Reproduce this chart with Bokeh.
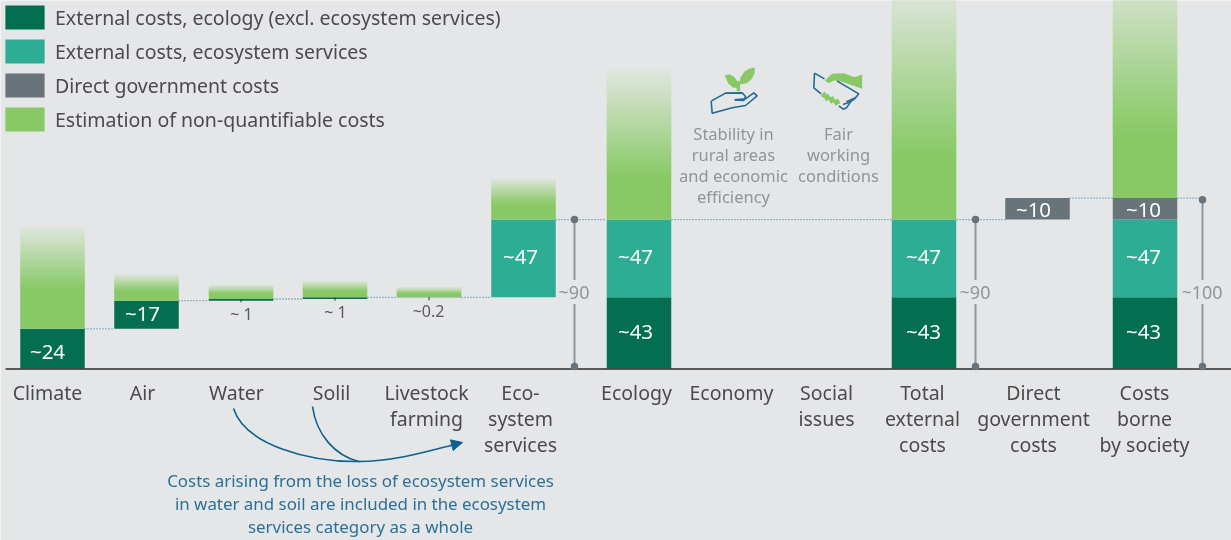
from bokeh.plotting import figure
from bokeh.embed import file_html
from bokeh.resources import INLINE
from bokeh.core.properties import value
from bokeh.models import Range1d, Legend, LegendItem, Arrow, NormalHead

# ---------- data ----------
categories = ["Climate", "Air", "Water", "Solil", "Livestock\nfarming", "Eco-\nsystem\nservices", "Ecology",
              "Economy", "Social\nissues", "Total\nexternal\ncosts", "Direct\ngovernment\ncosts", "Costs\nborne\nby society"]
climate = 24
air = 17
water = 1
soil = 1
livestock = 0.2
ecosystem = 47
ecology = 43
government_drawn = 13
step_values = [climate, air, water, soil, livestock]
step_labels = ["~24", "~17", "~ 1", "~ 1", "~0.2"]
nonquant_steps = [62, 16, 8.5, 10, 6]
nonquant_eco = 25
nonquant_ecology = 90
nonquant_total = 141
nonquant_costs = 140
legend_labels = ["External costs, ecology (excl. ecosystem services)", "External costs, ecosystem services",
                 "Direct government costs", "Estimation of non-quantifiable costs"]
note_lines = ["Costs arising from the loss of ecosystem services", "in water and soil are included in the ecosystem",
              "services category as a whole"]
col1_text = ["Stability in", "rural areas", "and economic", "efficiency"]
col2_text = ["Fair", "working", "conditions"]

# ---------- layout and style ----------
W, H = 1231, 540
BASE_PX, UNIT = 368.0, 1.655
BG, DARK, TEAL, GRAY, GREEN = "#E5E6E8", "#036E50", "#2DAE94", "#69737A", "#88C966"
TXT, SOFT, BLUE, NAVY = "#4B4B4D", "#8E959B", "#2A7099", "#11608F"
FONT = "Noto Sans"
BW = 64.5
step_x = [52, 146, 240.5, 334.5, 428.5]
eco_x, ecol_x, total_x, gov_x, costs_x = 523, 638.5, 923.5, 1037, 1144.5
label_x = [47, 142, 236, 331, 426, 520, 636, 731, 826, 922, 1033, 1144]

def Y(py):
    return (BASE_PX - py) / UNIT

p = figure(width=W, height=H, x_range=Range1d(0, W), y_range=Range1d(Y(H), Y(0)),
           output_backend="svg", toolbar_location=None, background_fill_color=BG,
           border_fill_color=BG, min_border=0, outline_line_color=None)
p.styles = {"position": "fixed", "left": "0px", "top": "0px"}
p.axis.visible = False
p.grid.visible = False


def bar(xc, lo, hi, color):
    return p.quad(left=[xc - BW / 2], right=[xc + BW / 2], bottom=[lo], top=[hi], fill_color=color, line_color=None)


def mix(t):
    a, b = (0xE0, 0xE6, 0xDE), (0x88, 0xC9, 0x66)
    return "#%02x%02x%02x" % tuple(round(a[i] + (b[i] - a[i]) * t) for i in range(3))


def nonquant(xc, lo, h):
    frac = 0.72 if h > 80 else 0.62
    fade = h * frac
    r = bar(xc, lo, lo + h - fade + 0.3, GREEN)
    n = max(8, int(fade * UNIT / 2))
    top = lo + h
    for i in range(n):
        y1 = top - fade * i / n
        y0 = top - fade * (i + 1) / n - 0.4 * fade / n
        p.quad(left=[xc - BW / 2], right=[xc + BW / 2], bottom=[max(y0, lo)], top=[y1],
               fill_color=mix((i + 0.5) / n), line_color=None)
    return r


# waterfall
level = 0
green_rs = []
dark_rs = []
levels = []
for xc, v, nq in zip(step_x, step_values, nonquant_steps):
    dark_rs.append(bar(xc, level, level + v, DARK))
    green_rs.append(nonquant(xc, level + v, nq))
    level += v
    levels.append(level)
eco_base = ecology
teal_r = bar(eco_x, eco_base, eco_base + ecosystem, TEAL)
ext_total = ecology + ecosystem
nonquant(eco_x, ext_total, nonquant_eco)

bar(ecol_x, 0, ecology, DARK)
bar(ecol_x, ecology, ext_total, TEAL)
nonquant(ecol_x, ext_total, nonquant_ecology)

bar(total_x, 0, ecology, DARK)
bar(total_x, ecology, ext_total, TEAL)
nonquant(total_x, ext_total, nonquant_total)

gray_r = bar(gov_x, ext_total, ext_total + government_drawn, GRAY)

bar(costs_x, 0, ecology, DARK)
bar(costs_x, ecology, ext_total, TEAL)
bar(costs_x, ext_total, ext_total + government_drawn, GRAY)
nonquant(costs_x, ext_total + government_drawn, nonquant_costs)

# baseline
p.segment([5], [Y(368.5)], [W], [Y(368.5)], line_color="#2B2B2D", line_width=1.6)

# dotted connectors
h_top = ext_total + government_drawn
conn = [(84, 114, climate), (178, 208, climate + air), (273, 302, climate + air + water),
        (367, 396, climate + air + water + soil), (461, 491, ecology), (555, 606, ext_total),
        (671, 891, ext_total), (956, 1005, ext_total), (1069, 1112, h_top), (1177, 1202, h_top)]
for a, b, y in conn:
    p.segment([a], [y], [b], [y], line_color="#3E84AE", line_width=1.3, line_dash="1 2")

# ticks over the small value labels
for xc, lev in zip(step_x[2:], levels[2:]):
    p.segment([xc], [lev - 0.1], [xc], [lev - 2], line_color="#333333", line_width=1)

# dimension lines
for x, top, lab in [(574, ext_total, "~90"), (975, ext_total, "~90"), (1202, h_top - 1, "~100")]:
    p.segment([x], [0], [x], [top], line_color=SOFT, line_width=2)
    p.scatter([x, x], [Y(366), top], size=7.5, fill_color=GRAY, line_color=None)
    p.text([x - 0.5], [Y(291.5)], text=[lab], text_font=value(FONT), text_font_size="18px", text_color=SOFT,
           text_align="center", text_baseline="middle", background_fill_color=BG)

# value labels
white_x = [52 - 5, 146 - 4]
white_y = [Y(350), Y(312)]
p.text(white_x, white_y, text=step_labels[:2], text_font=value(FONT), text_font_size="20.5px", text_color="white",
       text_align="center", text_baseline="middle")
p.text([241, 335, 428], [Y(313.5), Y(311.5), Y(310.5)], text=step_labels[2:], text_font=value(FONT), text_font_size="16px",
       text_color="#5A5A5C", text_align="center", text_baseline="middle")
for x, yc, lab in [(520, Y(255), "~47"), (635, Y(255), "~47"), (635, Y(330), "~43"), (923, Y(255), "~47"),
                   (923, Y(330), "~43"), (1033, Y(208), "~10"), (1143, Y(208), "~10"), (1143, Y(255), "~47"),
                   (1143, Y(330), "~43")]:
    p.text([x], [yc], text=[lab], text_font=value(FONT), text_font_size="20.5px", text_color="white",
           text_align="center", text_baseline="middle")

# category labels
p.text(label_x, [Y(378.3)] * len(label_x), text=categories, text_font=value(FONT), text_font_size="19.5px",
       text_color=TXT, text_align="center", text_baseline="top", text_line_height=0.96)

# side columns of text
for i, s in enumerate(col1_text):
    p.text([733], [Y(132.5 + i * 21.3)], text=[s], text_font=value(FONT), text_font_size="16.5px", text_color=SOFT,
           text_align="center", text_baseline="middle")
for i, s in enumerate(col2_text):
    p.text([838], [Y(132.5 + i * 21.3)], text=[s], text_font=value(FONT), text_font_size="16.5px", text_color=SOFT,
           text_align="center", text_baseline="middle")

# note and arrows
for i, s in enumerate(note_lines):
    p.text([360], [Y(479.5 + i * 23)], text=[s], text_font=value(FONT), text_font_size="16.9px", text_color=BLUE,
           text_align="center", text_baseline="middle")
p.bezier(x0=[233], y0=[Y(408)], x1=[360], y1=[Y(461)], cx0=[245], cy0=[Y(445)], cx1=[310], cy1=[Y(462)],
         line_color=NAVY, line_width=1.6)
p.bezier(x0=[312], y0=[Y(406)], x1=[358], y1=[Y(461)], cx0=[316], cy0=[Y(435)], cx1=[335], cy1=[Y(455)],
         line_color=NAVY, line_width=1.6)
p.bezier(x0=[358], y0=[Y(461)], x1=[458], y1=[Y(443)], cx0=[395], cy0=[Y(461)], cx1=[430], cy1=[Y(450)],
         line_color=NAVY, line_width=1.6)
p.add_layout(Arrow(end=NormalHead(size=11, fill_color=NAVY, line_color=NAVY, line_width=1), x_start=450, y_start=Y(445),
                   x_end=462, y_end=Y(442), line_color=NAVY, line_width=1.6))


# icons: outlines in picture pixels
def ix(v):
    return 700 + v / 3


def iy(v):
    return Y(60 + v / 3)


def poly(pts, color):
    p.patch([ix(a) for a, b in pts], [iy(b) for a, b in pts], fill_color=color, line_color=None)


def line(pts, w=1.6, color="#1F6A96"):
    p.line([ix(a) for a, b in pts], [iy(b) for a, b in pts], line_color=color, line_width=w)


line([(32, 122), (35, 158), (95, 142), (135, 135), (170, 106), (160, 97), (135, 115), (102, 118), (130, 120), (135, 108),
      (125, 97), (75, 98), (32, 122)])
poly([(72, 44), (88, 42), (102, 50), (110, 62), (112, 82), (98, 82), (84, 70)], GREEN)
poly([(117, 72), (120, 50), (132, 33), (146, 25), (163, 21), (162, 40), (152, 58), (138, 68)], GREEN)
line([(114, 92), (113, 62)], 3.5, GREEN)
line([(342, 38), (340, 82), (362, 100)])
line([(342, 38), (372, 55)])
poly([(373, 60), (395, 40), (430, 38), (462, 50), (485, 42), (485, 85), (465, 78), (420, 62), (400, 60), (385, 68)], GREEN)
for a, b, c, d in [(366, 100, 374, 106), (376, 104, 384, 118), (390, 110, 398, 126), (405, 118, 412, 132)]:
    line([(a, b), (c, d)], 5.5, GREEN)
line([(410, 62), (475, 100), (465, 112), (450, 124), (438, 142), (428, 146), (415, 136)])
line([(465, 112), (438, 124)])
line([(450, 124), (428, 132)])

# legend
legend = Legend(items=[LegendItem(label=legend_labels[0], renderers=[dark_rs[0]]),
                       LegendItem(label=legend_labels[1], renderers=[teal_r]),
                       LegendItem(label=legend_labels[2], renderers=[gray_r]),
                       LegendItem(label=legend_labels[3], renderers=[green_rs[0]])],
                location=(0, H - 134), background_fill_alpha=0, border_line_color=None, margin=0, padding=0,
                glyph_width=49, glyph_height=30, label_standoff=6, spacing=4, label_text_font=FONT,
                label_text_font_size="19.5px", label_text_color=TXT, label_height=30)
p.add_layout(legend, "center")

open("out.html", "w").write(file_html(p, INLINE))
